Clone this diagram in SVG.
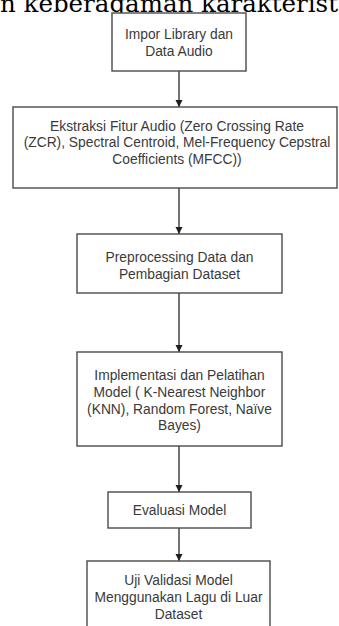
<svg xmlns="http://www.w3.org/2000/svg" width="339" height="626" viewBox="0 0 339 626">
<defs>
<style>
.box{fill:#fff;stroke:#4a4a4a;stroke-width:1.4}
.t{font-family:"Liberation Sans",Arial,sans-serif;font-size:13.8px;fill:#3a3a3a;text-anchor:middle}
.c{stroke:#2a2a2a;stroke-width:1.3;fill:none}
.hd{font-family:"DejaVu Serif","Liberation Serif",serif;font-size:24px;fill:#000}
</style>
<marker id="ah" markerWidth="8" markerHeight="8" refX="7" refY="4" orient="auto" markerUnits="userSpaceOnUse">
<path d="M0,0.5 L7,4 L0,7.5 Z" fill="#1e1e1e"/>
</marker>
</defs>
<rect width="339" height="626" fill="#fff"/>
<text class="hd" x="0" y="12" textLength="338" lengthAdjust="spacingAndGlyphs">n keberagaman karakterist</text>
<g id="connectors">
<line class="c" x1="179" y1="71" x2="179" y2="107" marker-end="url(#ah)"/>
<line class="c" x1="179" y1="188" x2="179" y2="234" marker-end="url(#ah)"/>
<line class="c" x1="179" y1="293" x2="179" y2="352" marker-end="url(#ah)"/>
<line class="c" x1="179" y1="446" x2="179" y2="492" marker-end="url(#ah)"/>
<line class="c" x1="179" y1="528" x2="179" y2="561" marker-end="url(#ah)"/>
</g>
<g id="n1">
<rect class="box" x="112" y="13" width="134" height="58"/>
<text class="t" x="179" y="38.5">Impor Library dan</text>
<text class="t" x="179" y="55.5">Data Audio</text>
</g>
<g id="n2">
<rect class="box" x="13" y="107" width="324" height="81"/>
<text class="t" x="177" y="130.5">Ekstraksi Fitur Audio (Zero Crossing Rate</text>
<text class="t" x="177" y="147">(ZCR), Spectral Centroid, Mel-Frequency Cepstral</text>
<text class="t" x="177" y="163.5">Coefficients (MFCC))</text>
</g>
<g id="n3">
<rect class="box" x="77" y="234" width="205" height="59"/>
<text class="t" x="179.5" y="262">Preprocessing Data dan</text>
<text class="t" x="179.5" y="278.5">Pembagian Dataset</text>
</g>
<g id="n4">
<rect class="box" x="77" y="352" width="205" height="94"/>
<text class="t" x="179.5" y="380">Implementasi dan Pelatihan</text>
<text class="t" x="179.5" y="396.8">Model ( K-Nearest Neighbor</text>
<text class="t" x="179.5" y="413.6">(KNN), Random Forest, Naïve</text>
<text class="t" x="179.5" y="430.4">Bayes)</text>
</g>
<g id="n5">
<rect class="box" x="108" y="492" width="143" height="36"/>
<text class="t" x="179.5" y="515">Evaluasi Model</text>
</g>
<g id="n6">
<rect class="box" x="87" y="561" width="183" height="75"/>
<text class="t" x="178.5" y="585">Uji Validasi Model</text>
<text class="t" x="178.5" y="602">Menggunakan Lagu di Luar</text>
<text class="t" x="178.5" y="619">Dataset</text>
</g>
</svg>
